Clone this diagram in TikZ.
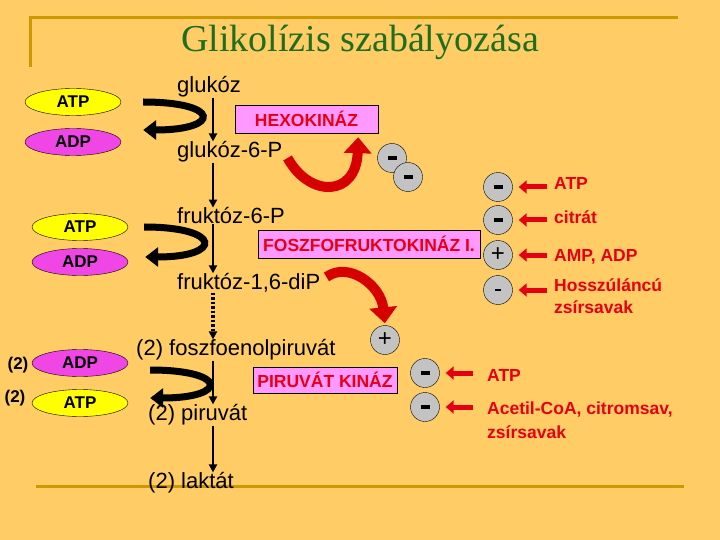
\documentclass[tikz,border=0pt]{standalone}
\usepackage{fontspec}
\setmainfont{Liberation Sans}
\newfontfamily\titlefont{Liberation Serif}
\usetikzlibrary{arrows.meta,shapes.geometric}

\definecolor{bgorange}{RGB}{255,204,102}
\definecolor{framegold}{RGB}{204,153,0}
\definecolor{titlegreen}{RGB}{30,110,30}
\definecolor{enzred}{RGB}{230,0,20}
\definecolor{enzpink}{RGB}{255,153,255}
\definecolor{ribbonred}{RGB}{215,0,0}
\definecolor{signgray}{RGB}{195,195,195}
\definecolor{atpyellow}{RGB}{255,255,0}
\definecolor{adpmagenta}{RGB}{240,70,230}

\tikzset{
  metab/.style={anchor=west, inner sep=0pt, font=\fontsize{22}{24}\selectfont},
  cofactor/.style={ellipse, draw, thin, minimum width=96pt, minimum height=27pt,
    inner sep=0pt, font=\fontsize{17}{20}\selectfont\bfseries},
  enzyme/.style={draw, thin, fill=enzpink, text=enzred, inner sep=0pt,
    font=\fontsize{17.5}{20}\selectfont\bfseries},
  effector/.style={circle, draw, thin, fill=signgray, minimum size=29pt, inner sep=0pt},
  efflabel/.style={anchor=west, inner sep=0pt, text=enzred, align=left,
    font=\fontsize{17.5}{22}\selectfont\bfseries},
  reaction/.style={line width=2.5pt, -{Triangle[length=8pt,width=8pt]}},
  coupled/.style={line width=7pt, -{Triangle[length=13pt,width=19pt]}},
  feedback/.style={ribbonred, line width=10pt, -{Triangle[length=16pt,width=27pt]}},
  inhibit/.style={enzred, line width=5pt, -{Triangle[length=8pt,width=13pt]}},
}

\newcommand{\minusbar}{\rule{9pt}{4.5pt}}
\newcommand{\plussign}{\fontsize{24}{24}\selectfont +}

\begin{document}
\begin{tikzpicture}[x=1pt, y=-1pt]

  % background and frame
  \fill [bgorange] (0,0) rectangle (720,540);
  \useasboundingbox (0,0) rectangle (720,540);
  \draw [framegold, line width=3pt] (30,67) -- (30,18) -- (678,18);
  \draw [framegold, line width=3pt] (36,486) -- (684,486);

  \node (title) at (360,42) [text=titlegreen, font=\fontsize{38}{40}\selectfont\titlefont] {Glikolízis szabályozása};

  % main pathway
  \coordinate (axis) at (213,0);
  \node (glu)  at (177,87)  [metab] {glukóz};
  \node (g6p)  at (177,152) [metab] {glukóz-6-P};
  \node (f6p)  at (177,216) [metab] {fruktóz-6-P};
  \node (f16p) at (177,283) [metab] {fruktóz-1,6-diP};
  \node (pep)  at (136,350) [metab] {(2) foszfoenolpiruvát};
  \node (pyr)  at (148,415) [metab] {(2) piruvát};
  \node (lac)  at (148,483) [metab] {(2) laktát};

  \draw [reaction] (glu.south -| axis) -- (g6p.north -| axis);
  \draw [reaction] (g6p.south -| axis) -- (f6p.north -| axis);
  \draw [reaction] (f6p.south -| axis) -- (f16p.north -| axis);
  \draw [reaction, line width=3.5pt, dash pattern=on 2.5pt off 2pt] (f16p.south -| axis) -- (pep.north -| axis);
  \draw [reaction] (pep.south -| axis) -- (pyr.north -| axis);
  \draw [reaction] (pyr.south -| axis) -- (lac.north -| axis);

  % ATP / ADP
  \node (atp1) at (73,102) [cofactor, fill=atpyellow] {ATP};
  \node (adp1) at (73,142) [cofactor, fill=adpmagenta] {ADP};
  \node (atp2) at (80,227) [cofactor, fill=atpyellow] {ATP};
  \node (adp2) at (80,262) [cofactor, fill=adpmagenta] {ADP};
  \node (adp3) at (80,363) [cofactor, fill=adpmagenta] {ADP};
  \node (atp3) at (80,403) [cofactor, fill=atpyellow] {ATP};
  \node (n1) at (18,365) [font=\fontsize{17}{20}\selectfont\bfseries] {(2)};
  \node (n2) at (15,398) [font=\fontsize{17}{20}\selectfont\bfseries] {(2)};

  \draw [coupled] ([xshift=22pt]atp1.east) .. controls +(78,0) and +(78,0) .. ([xshift=22pt,yshift=12pt]adp1.east);
  \draw [coupled] ([xshift=16pt]atp2.east) .. controls +(78,0) and +(78,0) .. ([xshift=17pt,yshift=5pt]adp2.east);
  \draw [coupled] ([xshift=22pt,yshift=-7pt]adp3.east) .. controls +(78,0) and +(78,0) .. ([xshift=22pt,yshift=5pt]atp3.east);

  % enzymes
  \node (hexo) at (306.5,119) [enzyme, minimum width=143pt, minimum height=28pt] {HEXOKINÁZ};
  \node (pfk)  at (369,244)   [enzyme, minimum width=222pt, minimum height=28pt] {FOSZFOFRUKTOKINÁZ I.};
  \node (pk)   at (325,380)   [enzyme, minimum width=144pt, minimum height=26pt] {PIRUVÁT KINÁZ};

  % hexokinase
  \node (hx1) at (392,158) [effector] {\minusbar};
  \node (hx2) at (408,177) [effector] {\minusbar};
  \draw [feedback] ([xshift=5pt,yshift=-6pt]g6p.east) .. controls +(22,40) and +(-2,60) .. ([xshift=-20pt,yshift=-4pt]hexo.south east);

  % foszfofruktokinaz
  \node (c1) at (498,187) [effector] {\minusbar};
  \node (c2) at (498,220) [effector] {\minusbar};
  \node (c3) at (498,255) [effector] {\plussign};
  \node (c4) at (498,290) [effector] {\rule{6pt}{2pt}};
  \node (l1) at (554,183) [efflabel] {ATP};
  \node (l2) at (554,217) [efflabel] {citrát};
  \node (l3) at (554,257) [efflabel] {AMP, ADP};
  \node (l4) at (554,296) [efflabel] {Hosszúláncú\\zsírsavak};
  \foreach \i in {1,...,4}
    \draw [inhibit, shorten <=7pt, shorten >=6pt] (c\i -| l\i.west) -- (c\i.east);

  % piruvat kinaz
  \node (pkp) at (385,340) [effector] {\plussign};
  \draw [feedback, shorten >=2pt] ([xshift=6pt,yshift=6pt]f16p.east) .. controls +(22,-16) and +(-4,-40) .. (pkp.north);
  \node (pk1) at (425,373) [effector] {\minusbar};
  \node (pk2) at (425,407) [effector] {\minusbar};
  \node (m1) at (487,375) [efflabel] {ATP};
  \node (m2) at (487,420) [efflabel, font=\fontsize{17.5}{24}\selectfont\bfseries] {Acetil-CoA, citromsav,\\zsírsavak};
  \draw [inhibit, shorten <=14pt, shorten >=6pt] (pk1 -| m1.west) -- (pk1.east);
  \draw [inhibit, shorten <=14pt, shorten >=6pt] (pk2 -| m2.west) -- (pk2.east);

\end{tikzpicture}
\end{document}
